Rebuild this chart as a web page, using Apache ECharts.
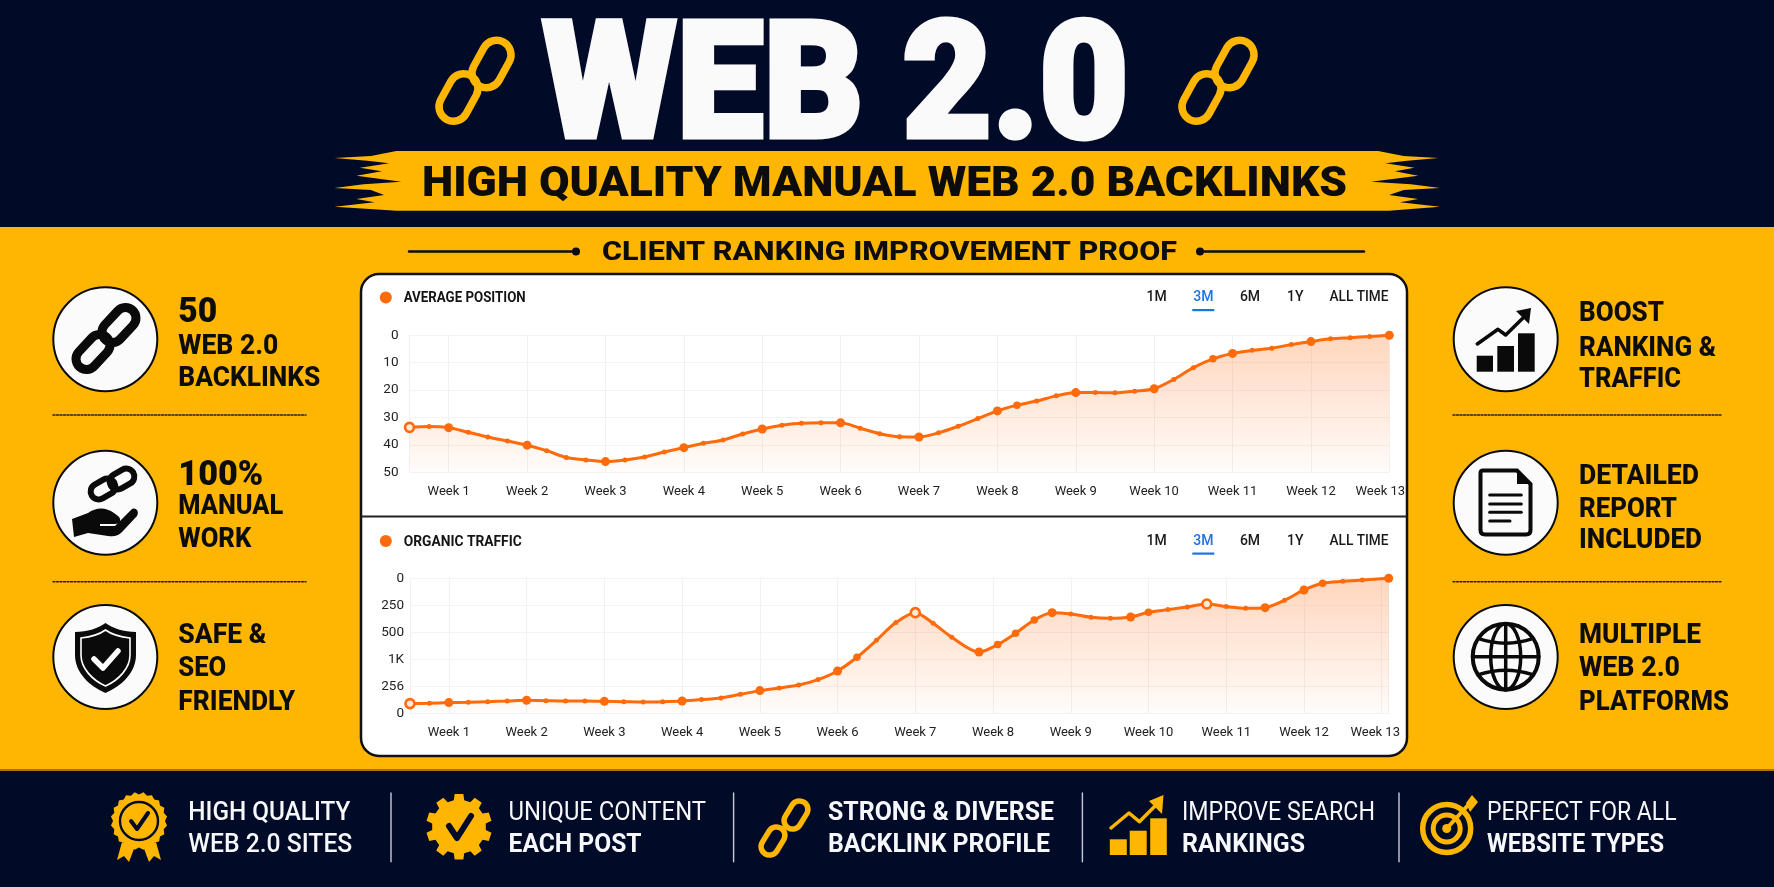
<!DOCTYPE html>
<html><head><meta charset="utf-8">
<script src="https://cdn.jsdelivr.net/npm/echarts@6/dist/echarts.min.js"></script>
<style>html,body{margin:0;padding:0;background:#010a26}#c{width:1774px;height:887px}</style>
</head><body><div id="c"></div>
<script>
// ---------- data ----------
const weekTicks = [1,2,3,4,5,6,7,8,9,10,11,12,13];
const avgWeeks = [0.5,0.75,1,1.25,1.5,1.75,2,2.25,2.5,2.75,3,3.25,3.5,3.75,4,4.25,4.5,4.75,5,5.25,5.5,5.75,6,6.25,6.5,6.75,7,7.25,7.5,7.75,8,8.25,8.5,8.75,9,9.25,9.5,9.75,10,10.25,10.5,10.75,11,11.25,11.5,11.75,12,12.25,12.5,12.75,13];
const avgPosition = [33.6,33.3,33.7,35.4,37.1,38.6,40.1,42.1,44.6,45.5,46.1,45.5,44.4,42.6,41,39.4,38.2,36,34.2,32.8,32.1,31.9,31.9,33.9,35.9,37,37.1,35.6,33.2,30.4,27.6,25.5,24,22.1,20.9,20.9,21,20.4,19.5,16.1,11.8,8.6,6.6,5.5,4.7,3.4,2.3,1.3,0.85,0.4,0];
const avgTickLabels = ['0','10','20','30','40','50'];
const trafficWeeks = [0.5,0.75,1,1.25,1.5,1.75,2,2.25,2.5,2.75,3,3.25,3.5,3.75,4,4.25,4.5,4.75,5,5.25,5.5,5.75,6,6.25,6.5,6.75,7,7.23,7.47,7.82,8.06,8.29,8.53,8.76,9,9.26,9.51,9.77,10,10.25,10.5,10.75,11,11.25,11.5,11.75,12,12.24,12.5,12.75,13.09];
const organicTraffic = [1160,1157,1151,1148,1142,1136,1129,1133,1136,1136,1139,1142,1145,1142,1136,1123,1108,1074,1040,1015,988,938,858,731,574,410,318,417,546,682,614,509,386,318,330,361,370,358,315,290,265,238,262,278,272,204,108,46,28,15,0];
const trafficTickLabels = ['0','250','500','1K','256','0'];
const rangeTabs = ['1M','3M','6M','1Y','ALL TIME'];
const avgBig = [1,2,3,4,5,6,7,8,9,10,11,12,13];
const avgMid = [8.25,10.75];
const trafficBig = [1,2,3,4,5,6,7.82,8.76,9.77,11.5,12,13.09];
const trafficMid = [6.25,8.06,8.29,8.53,10,12.24];
const avgRing = [0.5];
const trafficRing = [0.5,7,10.75];

// ---------- style ----------
const NAVY='#010a26', GOLD='#feb602', ORANGE='#ff6a0a', INK='#0c0c0c', FF='Roboto';
const el=[];
const mc=document.createElement('canvas').getContext('2d');
function txt(text,x,cy,size,weight,targetW,fill,align,thick){
  const font=weight+' '+size+'px '+FF+',sans-serif';
  mc.font=font;
  const sx=targetW?targetW/mc.measureText(text).width:1;
  const style={text:text,font:font,fill:fill||INK,textAlign:align||'left',textVerticalAlign:'middle'};
  if(thick){style.stroke=fill||INK;style.lineWidth=thick;}
  el.push({type:'text',x:x,y:cy+0.11*size,scaleX:sx,scaleY:1,z:6,silent:true,style:style});
}
function rect(x,y,w,h,fill,z){el.push({type:'rect',z:z||1,silent:true,shape:{x:x,y:y,width:w,height:h},style:{fill:fill}});}
let pathN=0;
function path(d,style){
  const name='p'+(pathN++);
  echarts.graphic.registerShape(name,echarts.graphic.extendPath(d,{}));
  el.push({type:name,z:4,silent:true,style:style});
}
function poly(pts,fill){el.push({type:'polygon',z:4,silent:true,shape:{points:pts},style:{fill:fill}});}
function pline(pts,color,w,dash){el.push({type:'polyline',z:4,silent:true,shape:{points:pts},style:{stroke:color,lineWidth:w,fill:null,lineCap:'round',lineJoin:'round',lineDash:dash||null}});}
function circ(cx,cy,r,fill,stroke,w){el.push({type:'circle',z:4,silent:true,shape:{cx:cx,cy:cy,r:r},style:{fill:fill||null,stroke:stroke||null,lineWidth:w||0}});}
function link(cx,cy,w,len,sw,rot,color){
  el.push({type:'rect',z:4,silent:true,x:cx,y:cy,rotation:rot,
    shape:{x:-w/2,y:-len/2,width:w,height:len,r:w/2},style:{fill:null,stroke:color,lineWidth:sw}});
}

// ---------- backgrounds ----------
rect(0,0,1774,887,NAVY,0);
rect(0,227,1774,543,GOLD,0);
rect(0,769,1774,2,'#9c7a10',0);

// ---------- header ----------
txt('WEB 2.0',542,78,164,900,587,'#fafafa','left',5);
link(458.5,97.5,29,50,7.5,-0.5,GOLD); link(491.5,64,29,50,7.5,-0.5,GOLD);
link(1201.5,97.5,29,50,7.5,-0.5,GOLD); link(1234.5,64,29,50,7.5,-0.5,GOLD);
const bannerZ=[[105,453],[70,468],[20,474],[65,482],[95,490],[55,503],[85,514],[50,527],[112,545],[60,553],[20,564],[70,570],[88,585],[50,597],[75,607],[20,620],[105,632],
 [1470,632],[1540,620],[1485,607],[1510,597],[1470,585],[1490,570],[1540,564],[1500,553],[1445,545],[1510,527],[1478,514],[1505,503],[1465,490],[1495,482],[1538,474],[1490,468],[1455,453]];
poly(bannerZ.map(p=>[320+p[0]/1.375,p[1]/3]),GOLD);
txt('HIGH QUALITY MANUAL WEB 2.0 BACKLINKS',422,181,43,900,925,INK);
txt('CLIENT RANKING IMPROVEMENT PROOF',602,251,25,800,575,INK);
pline([[409,251.5],[576,251.5]],INK,2.5); circ(576,251.5,4,INK);
pline([[1200,251.5],[1364,251.5]],INK,2.5); circ(1200,251.5,4,INK);

// ---------- chart panel ----------
el.push({type:'rect',z:2,silent:true,shape:{x:361,y:274,width:1046,height:482,r:18},style:{fill:'#fff',stroke:'#111',lineWidth:2.5}});
rect(361,515.5,1046,2,'#222',2);
function panelHead(title,titleW,cy){
  circ(385.8,cy+0.5,6,ORANGE);
  txt(title,403.7,cy,14,700,titleW,'#141414');
  const cx=[1156.7,1203.3,1250,1295.3,1359];
  rangeTabs.forEach((t,i)=>txt(t,cx[i],cy-1,14,500,i===4?59:0,i===1?'#1a73e8':'#1a1a1a','center'));
  rect(1192.3,cy+12,22,2.2,'#1a73e8',4);
}
panelHead('AVERAGE POSITION',122,297);
panelHead('ORGANIC TRAFFIC',118,540.5);

// ---------- side columns ----------
const CY=[339.3,502.7,657];
[105.3,1505.7].forEach(cx=>CY.forEach(cy=>circ(cx,cy,52,'#fbfbfb','#0a0a0a',2)));
[[53,306],[1453,1721]].forEach(r=>[415,581.7].forEach(y=>pline([[r[0],y],[r[1],y]],'#222',1.4,[2,1.5])));
const L=178.3,R=1579;
[['50',L,309,35,900,39],['WEB 2.0',L,344,27,800,100],['BACKLINKS',L,376.7,27,800,142],
 ['100%',L,472,35,900,85],['MANUAL',L,504,27,800,105],['WORK',L,537.7,27,800,73],
 ['SAFE &',L,633,27,800,88],['SEO',L,666.7,27,800,48],['FRIENDLY',L,700,27,800,117],
 ['BOOST',R,311.7,27,800,85],['RANKING &',R,346,27,800,137],['TRAFFIC',R,377.3,27,800,102],
 ['DETAILED',R,474,27,800,120],['REPORT',R,507.7,27,800,98],['INCLUDED',R,538.3,27,800,123],
 ['MULTIPLE',R,633.3,27,800,122],['WEB 2.0',R,666.7,27,800,101],['PLATFORMS',R,700,27,800,150]
].forEach(a=>txt(a[0],a[1],a[2],a[3],a[4],a[5],INK));

// left icons
link(93,352,21,40,9,-0.75,'#0a0a0a'); link(119,325,21,40,9,-0.75,'#0a0a0a');
link(103,489,16,26,6,-1.05,'#0a0a0a'); link(122,479,16,26,6,-1.05,'#0a0a0a');
path('M72 519 L88 513 C96 507 106 507 114 513 L118 516 C122 519 120 524 115 524 L100 524 L100 526 L115 526 L131 510 C135 506 140 511 137 516 L122 532 C118 536 114 537 108 536 L88 533 L74 537 Z',{fill:'#0a0a0a'});
path('M105.5 623 C112 628 124 632 136 632 L136 655 C136 672 122 686 105.5 693 C89 686 75 672 75 655 L75 632 C87 632 99 628 105.5 623 Z',{fill:'#0a0a0a'});
path('M105.5 630 C111 634 121 637 130 638 L130 655 C130 668 119 680 105.5 686 C92 680 81 668 81 655 L81 638 C90 637 100 634 105.5 630 Z',{fill:'none',stroke:'#fff',lineWidth:1.6});
pline([[94,659],[103,668],[118,651]],'#fff',5.5);

// right icons
[[1476.7,355.7,16.3,16],[1497.3,346,16.7,25.7],[1518,333.3,16.7,38.4]].forEach(b=>rect(b[0],b[1],b[2],b[3],'#0a0a0a',4));
pline([[1477.3,344],[1498,329.3],[1505.7,335],[1524,317]],'#0a0a0a',3.5);
poly([[1531,308],[1516,311],[1529,324]],'#0a0a0a');
path('M1483 470.5 L1517 470.5 L1530.5 484 L1530.5 530 Q1530.5 534.5 1526 534.5 L1485 534.5 Q1480.5 534.5 1480.5 530 L1480.5 473 Q1480.5 470.5 1483 470.5 Z',{fill:'none',stroke:'#0a0a0a',lineWidth:4});
poly([[1517,470],[1531,484],[1517,484]],'#0a0a0a');
[[495,1521.3],[504,1521.3],[512.3,1521.3],[521,1510]].forEach(l=>pline([[1489.7,l[0]],[l[1],l[0]]],'#0a0a0a',3));
const GX=1505.7,GY=656.7;
circ(GX,GY,33,null,'#0a0a0a',4);
el.push({type:'ellipse',z:4,silent:true,shape:{cx:GX,cy:GY,rx:15,ry:33},style:{fill:null,stroke:'#0a0a0a',lineWidth:3.5}});
pline([[GX,GY-33],[GX,GY+33]],'#0a0a0a',3.5);
pline([[GX-33,GY],[GX+33,GY]],'#0a0a0a',3.5);
path(`M${GX-27} ${GY-18} Q${GX} ${GY-9} ${GX+27} ${GY-18} M${GX-27} ${GY+18} Q${GX} ${GY+9} ${GX+27} ${GY+18}`,{fill:'none',stroke:'#0a0a0a',lineWidth:3.5});

// ---------- footer ----------
[391,733.6,1082.4,1399].forEach(x=>pline([[x,793],[x,861.7]],'#c9ccd6',1.4));
[['HIGH QUALITY',188.3,810.7,500,162],['WEB 2.0 SITES',188.3,843.3,500,164],
 ['UNIQUE CONTENT',508.6,810.7,400,197.4],['EACH POST',508.6,843.3,700,133],
 ['STRONG & DIVERSE',828,810.7,700,226],['BACKLINK PROFILE',828,843.3,700,222],
 ['IMPROVE SEARCH',1182,810.7,400,193],['RANKINGS',1182,843.3,700,123],
 ['PERFECT FOR ALL',1487,810.7,400,189.5],['WEBSITE TYPES',1487,843.3,700,177]
].forEach(a=>txt(a[0],a[1],a[2],25,a[3],a[4],'#f7f8fc'));
// rosette
const ros=[];for(let i=0;i<40;i++){const a=i/40*Math.PI*2,r=i%2?29:26.5;ros.push([139+r*Math.cos(a)*0.98,821+r*Math.sin(a)]);}
poly([[122,842],[117,860],[124,856],[129,862],[135,846]],GOLD);
poly([[156,842],[161,860],[154,856],[149,862],[143,846]],GOLD);
poly(ros,GOLD);
circ(139,821,19,null,NAVY,2.4);
pline([[131,821],[137,829],[148,813]],NAVY,4);
// gear
const gear=[];for(let i=0;i<10;i++){const a0=i/10*Math.PI*2-Math.PI/2,st=Math.PI/10;
  [[-0.42,33],[0.42,33],[0.62,27],[1.38,27]].forEach(q=>{const a=a0+q[0]*st;gear.push([459+q[1]*Math.cos(a),826.7+q[1]*Math.sin(a)]);});}
poly(gear,GOLD);
pline([[449,826],[457,838],[471,816]],NAVY,6);
// chain
link(773,841,17,30,5.5,-0.55,GOLD); link(796,815,17,30,5.5,-0.55,GOLD);
// rising bars
[[1109.8,839.3,17,15.7],[1129.7,830.7,17,24.3],[1150.2,818.3,16.6,36.7]].forEach(b=>rect(b[0],b[1],b[2],b[3],GOLD,4));
pline([[1111,828],[1129,813],[1139.4,821.7],[1158,803]],GOLD,3.5);
poly([[1163.5,795],[1149,801],[1162,814]],GOLD);
// target
circ(1446.7,828.5,24,null,GOLD,5.5); circ(1446.7,828.5,13.5,null,GOLD,5); circ(1446.7,828.5,4.5,GOLD);
pline([[1446.7,828.5],[1470,803]],GOLD,4);
poly([[1478,802],[1472,795],[1466,803],[1470,812]],GOLD);

// ---------- chart option ----------
const sizeOf=(w,big,mid)=>big.includes(w)?9:mid.includes(w)?7.5:5;
function toData(ws,vs,big,mid,ring){
  return ws.map((w,i)=>{
    const it={value:[w,vs[i]],symbolSize:sizeOf(w,big,mid)};
    if(ring.includes(w)){it.symbolSize=9;it.itemStyle={color:'#ffe9d8',borderColor:ORANGE,borderWidth:2.6};}
    return it;
  });
}
function xAxis(i,max,ticks,pad){
  return {type:'value',gridIndex:i,min:0.5,max:max,z:3,
    axisLine:{show:false},
    axisTick:{show:false,customValues:ticks},
    splitLine:{show:true,lineStyle:{color:'#f1f1f1',width:1}},
    axisLabel:{show:true,customValues:weekTicks,margin:13,fontFamily:FF,fontSize:13,color:'#222',
      formatter:v=>v===13?'{last|Week 13}':'Week '+v,
      rich:{last:{fontFamily:FF,fontSize:13,color:'#222',padding:[0,pad,0,0]}}}};
}
function yAxis(i,max,step,labels,margin){
  return {type:'value',gridIndex:i,inverse:true,min:0,max:max,interval:step,z:3,
    axisLine:{show:false},axisTick:{show:false},
    splitLine:{show:true,lineStyle:{color:'#f3f3f3',width:1}},
    axisLabel:{margin:margin,fontFamily:FF,fontSize:13.5,color:'#222',align:'right',
      formatter:v=>labels[Math.round(v/step)]}};
}
function lineSeries(i,name,data){
  return {type:'line',name:name,xAxisIndex:i,yAxisIndex:i,z:5,data:data,smooth:0.3,
    symbol:'circle',clip:false,
    lineStyle:{color:ORANGE,width:3},
    itemStyle:{color:ORANGE,borderColor:ORANGE,borderWidth:0},
    areaStyle:{origin:'end',color:{type:'linear',x:0,y:0,x2:0,y2:1,colorStops:[
      {offset:0,color:'rgba(255,115,30,0.42)'},{offset:1,color:'rgba(255,115,30,0.03)'}]}}};
}
const chart=echarts.init(document.getElementById('c'),null,{renderer:'canvas',width:1774,height:887});
chart.setOption({
  animation:false,backgroundColor:NAVY,
  graphic:{elements:el},
  grid:[{left:409.5,top:335.3,width:979.8,height:137},{left:410,top:578.3,width:978.7,height:135}],
  xAxis:[xAxis(0,13,[0.5].concat(weekTicks),18),xAxis(1,13.09,[0.5].concat(weekTicks,[13.09]),13)],
  yAxis:[yAxis(0,50,10,avgTickLabels,11),yAxis(1,1250,250,trafficTickLabels,6)],
  series:[lineSeries(0,'Average Position',toData(avgWeeks,avgPosition,avgBig,avgMid,avgRing)),
          lineSeries(1,'Organic Traffic',toData(trafficWeeks,organicTraffic,trafficBig,trafficMid,trafficRing))]
});
</script></body></html>
